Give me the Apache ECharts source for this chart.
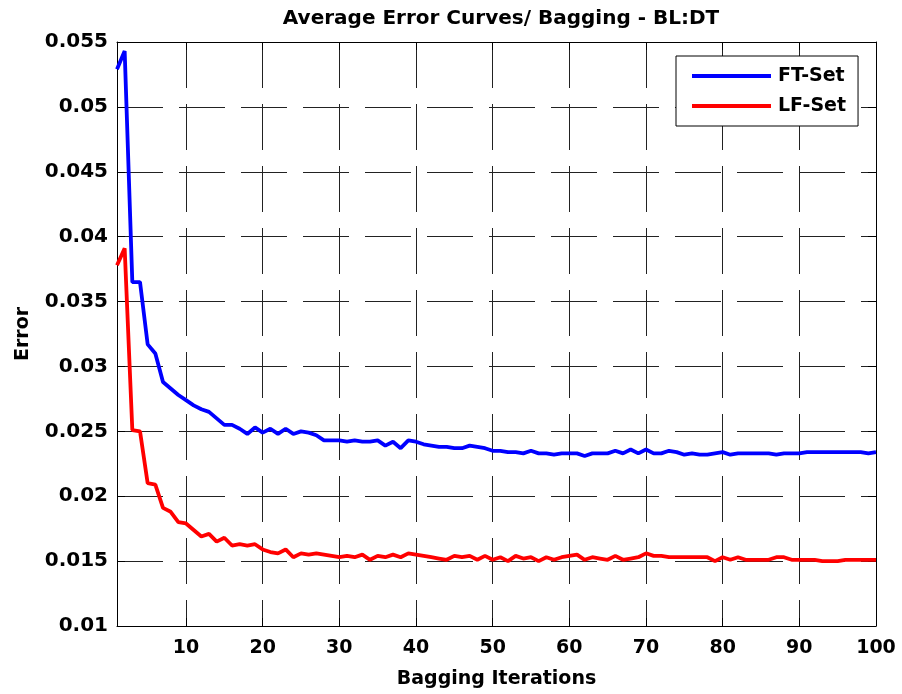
<!DOCTYPE html>
<html>
<head>
<meta charset="utf-8">
<script src="https://cdn.jsdelivr.net/npm/echarts@6/dist/echarts.min.js"></script>
<style>html,body{margin:0;padding:0;background:#fff;}#chart{width:902px;height:694px;}</style>
</head>
<body>
<div id="chart"></div>
<script>
var iterations = [];
for (var i = 1; i <= 100; i++) iterations.push(String(i));

var ftSet = [
0.0529,0.0543,0.0365,0.0365,0.0317,0.0310,0.0288,0.0283,0.0278,0.0274,
0.0270,0.0267,0.0265,0.0260,0.0255,0.0255,0.0252,0.0248,0.0253,0.0249,
0.0252,0.0248,0.0252,0.0248,0.0250,0.0249,0.0247,0.0243,0.0243,0.0243,
0.0242,0.0243,0.0242,0.0242,0.0243,0.0239,0.0242,0.0237,0.0243,0.0242,
0.0240,0.0239,0.0238,0.0238,0.0237,0.0237,0.0239,0.0238,0.0237,0.0235,
0.0235,0.0234,0.0234,0.0233,0.0235,0.0233,0.0233,0.0232,0.0233,0.0233,
0.0233,0.0231,0.0233,0.0233,0.0233,0.0235,0.0233,0.0236,0.0233,0.0236,
0.0233,0.0233,0.0235,0.0234,0.0232,0.0233,0.0232,0.0232,0.0233,0.0234,
0.0232,0.0233,0.0233,0.0233,0.0233,0.0233,0.0232,0.0233,0.0233,0.0233,
0.0234,0.0234,0.0234,0.0234,0.0234,0.0234,0.0234,0.0234,0.0233,0.0234
];

var lfSet = [
0.0378,0.0391,0.0251,0.0250,0.0210,0.0209,0.0191,0.0188,0.0180,0.0179,
0.0174,0.0169,0.0171,0.0165,0.0168,0.0162,0.0163,0.0162,0.0163,0.0159,
0.0157,0.0156,0.0159,0.0153,0.0156,0.0155,0.0156,0.0155,0.0154,0.0153,
0.0154,0.0153,0.0155,0.0151,0.0154,0.0153,0.0155,0.0153,0.0156,0.0155,
0.0154,0.0153,0.0152,0.0151,0.0154,0.0153,0.0154,0.0151,0.0154,0.0151,
0.0153,0.0150,0.0154,0.0152,0.0153,0.0150,0.0153,0.0151,0.0153,0.0154,
0.0155,0.0151,0.0153,0.0152,0.0151,0.0154,0.0151,0.0152,0.0153,0.0156,
0.0154,0.0154,0.0153,0.0153,0.0153,0.0153,0.0153,0.0153,0.0150,0.0153,
0.0151,0.0153,0.0151,0.0151,0.0151,0.0151,0.0153,0.0153,0.0151,0.0151,
0.0151,0.0151,0.0150,0.0150,0.0150,0.0151,0.0151,0.0151,0.0151,0.0151
];

var seriesNames = ['FT-Set', 'LF-Set'];
var titleText = 'Average Error Curves/ Bagging - BL:DT';
var xName = 'Bagging Iterations';
var yName = 'Error';

var FONT = 'DejaVu Sans';
var every10 = function (idx, val) { return Number(val) % 10 === 0; };
var every10NoEnd = function (idx, val) { var n = Number(val); return n % 10 === 0 && n !== 100; };

var chart = echarts.init(document.getElementById('chart'), null, {renderer: 'canvas'});
chart.setOption({
  backgroundColor: '#ffffff',
  animation: false,
  title: {
    text: titleText,
    left: 496, top: 4, textAlign: 'center',
    textStyle: {fontFamily: FONT, fontWeight: 'bold', fontSize: 20, color: '#000'}
  },
  legend: {
    orient: 'vertical',
    left: 676, top: 56,
    backgroundColor: '#fff',
    borderColor: '#000', borderWidth: 1,
    padding: [9, 12, 9, 16],
    itemGap: 8,
    itemWidth: 79, itemHeight: 4,
    icon: 'rect',
    data: seriesNames,
    textStyle: {fontFamily: FONT, fontWeight: 'bold', fontSize: 19, color: '#000', lineHeight: 22, padding: [0, 0, 0, 2]}
  },
  grid: {left: 117, right: 26, top: 42, bottom: 68, containLabel: false},
  xAxis: [{
    type: 'category', data: iterations, boundaryGap: false,
    name: xName, nameLocation: 'middle', nameGap: 44,
    nameTextStyle: {fontFamily: FONT, fontWeight: 'bold', fontSize: 19, color: '#000'},
    axisLine: {show: true, lineStyle: {color: '#000', width: 1}},
    axisTick: {show: true, inside: true, length: 8, interval: every10, lineStyle: {color: '#000'}},
    axisLabel: {interval: every10, margin: 13, fontFamily: FONT, fontWeight: 'bold', fontSize: 19, color: '#000'},
    splitLine: {show: true, interval: every10NoEnd, lineStyle: {color: '#222', width: 1, type: [46, 16], dashOffset: 0}}
  }, {
    type: 'category', data: iterations, boundaryGap: false, position: 'top',
    axisLine: {show: true, lineStyle: {color: '#000', width: 1}},
    axisTick: {show: true, inside: true, length: 8, interval: every10, lineStyle: {color: '#000'}},
    axisLabel: {show: false},
    splitLine: {show: false}
  }],
  yAxis: [{
    type: 'value', min: 0.01, max: 0.055, interval: 0.005,
    name: yName, nameLocation: 'middle', nameGap: 84, nameRotate: 90,
    nameTextStyle: {fontFamily: FONT, fontWeight: 'bold', fontSize: 19, color: '#000'},
    axisLine: {show: true, lineStyle: {color: '#000', width: 1}},
    axisTick: {show: true, inside: true, length: 8, lineStyle: {color: '#000'}},
    axisLabel: {margin: 9, fontFamily: FONT, fontWeight: 'bold', fontSize: 20, color: '#000',
      formatter: function (v) { return String(+v.toFixed(3)); }},
    splitLine: {show: true, lineStyle: {color: '#222', width: 1, type: [46, 16], dashOffset: 0}}
  }, {
    type: 'value', min: 0.01, max: 0.055, interval: 0.005, position: 'right',
    axisLine: {show: true, lineStyle: {color: '#000', width: 1}},
    axisTick: {show: true, inside: true, length: 8, lineStyle: {color: '#000'}},
    axisLabel: {show: false},
    splitLine: {show: false}
  }],
  series: [{
    name: seriesNames[0], type: 'line', data: ftSet, xAxisIndex: 0, yAxisIndex: 0,
    showSymbol: false, symbol: 'none',
    lineStyle: {color: '#0000ff', width: 3.8}, itemStyle: {color: '#0000ff'}
  }, {
    name: seriesNames[1], type: 'line', data: lfSet, xAxisIndex: 0, yAxisIndex: 0,
    showSymbol: false, symbol: 'none',
    lineStyle: {color: '#ff0000', width: 3.8}, itemStyle: {color: '#ff0000'}
  }]
});
</script>
</body>
</html>
